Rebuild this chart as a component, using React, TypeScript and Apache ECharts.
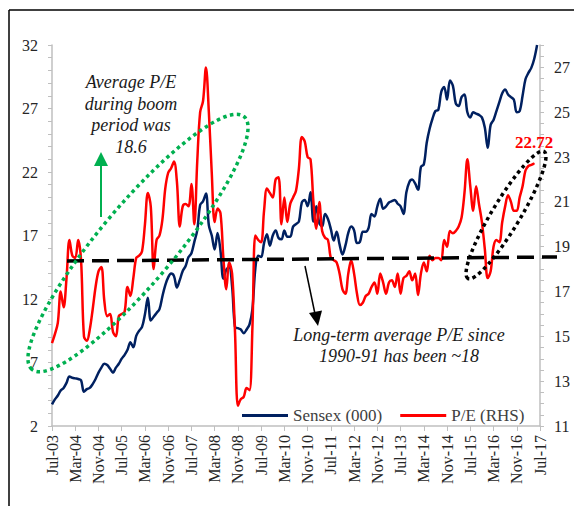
import React, { useEffect, useRef } from "react";
import * as echarts from "echarts";

const MONTH_NAMES = ["Jan", "Feb", "Mar", "Apr", "May", "Jun", "Jul", "Aug", "Sep", "Oct", "Nov", "Dec"];
const START_YEAR = 2003;
const START_MONTH = 6; // Jul
const MONTH_COUNT = 169; // Jul-03 .. Jul-17

const categories: string[] = Array.from({ length: MONTH_COUNT }, (_, i) => {
  const m = (START_MONTH + i) % 12;
  const y = START_YEAR + Math.floor((START_MONTH + i) / 12);
  return `${MONTH_NAMES[m]}-${String(y % 100).padStart(2, "0")}`;
});

// Sensex (000), left axis
const sensex: number[] = [
  3.7, 4.1, 4.4, 4.8, 5.0, 5.4, 5.9, 5.8, 5.75, 5.7, 5.6, 4.7, 4.9, 5.0, 5.3, 5.7,
  6.2, 6.6, 6.9, 6.8, 6.5, 6.2, 6.6, 6.9, 7.3, 7.6, 8.0, 8.6, 8.2, 9.1, 9.5, 9.8,
  10.8, 12.1, 10.3, 10.6, 10.9, 11.2, 12.2, 13.1, 13.7, 14.0, 13.8, 12.9, 13.5, 14.2, 14.6, 15.3,
  15.6, 16.5, 17.4, 19.4, 19.7, 20.3, 17.8, 17.0, 15.9, 17.2, 15.8, 13.6, 14.3, 14.5, 13.0, 9.8,
  9.7, 9.6, 9.3, 9.6, 10.0, 11.2, 14.4, 15.4, 15.3, 16.4, 17.1, 16.2, 17.0, 17.4, 16.8, 16.7,
  17.4, 16.9, 16.9, 17.7, 17.9, 18.1, 19.6, 19.8, 19.3, 20.4, 18.1, 19.3, 18.0, 17.7, 18.7, 18.3,
  17.5, 16.6, 17.3, 16.3, 15.5, 16.2, 17.2, 17.7, 17.4, 16.4, 16.5, 17.3, 17.3, 17.6, 18.7, 18.5,
  19.3, 19.9, 19.1, 19.3, 19.6, 19.7, 19.8, 19.5, 19.3, 18.7, 20.4, 21.2, 21.4, 21.1, 20.6, 22.4,
  22.6, 24.3, 25.4, 26.2, 26.8, 26.9, 28.3, 28.7, 27.7, 29.2, 28.8, 27.4, 27.2, 27.9, 28.1, 26.7,
  26.3, 26.7, 26.6, 26.5, 26.3, 25.5, 23.9, 25.7, 26.1, 26.8, 27.5, 28.2, 28.5, 28.1, 27.9, 27.7,
  26.7, 26.8, 28.0, 29.3, 29.8, 30.2, 30.9, 32.0,
];

// P/E, right axis
const pe: number[] = [
  14.7, 15.1, 15.6, 17.0, 16.3, 17.6, 19.3, 18.6, 18.5, 19.3, 18.4, 15.0, 14.8, 15.3, 16.2, 17.2,
  17.9, 18.1, 16.6, 15.9, 16.0, 15.2, 15.0, 15.9, 16.0, 16.1, 17.2, 16.8, 17.6, 18.5, 18.6, 18.8,
  20.0, 21.4, 20.8, 18.0, 19.3, 19.5, 20.2, 21.6, 22.3, 22.5, 22.8, 21.9, 19.9, 20.8, 20.9, 20.8,
  21.8, 20.0, 22.8, 25.0, 25.5, 27.0, 25.0, 22.3, 20.1, 20.7, 20.5, 18.5, 17.1, 18.3, 17.8, 15.2,
  11.9, 12.2, 12.3, 12.7, 12.6, 15.4, 19.5, 19.3, 19.2, 20.6, 21.6, 21.4, 21.2, 22.0, 22.1, 20.0,
  21.2, 20.1, 20.9, 21.2, 21.5, 22.5, 23.9, 23.7, 23.0, 22.9, 21.0, 19.8, 21.0, 19.7, 19.4, 19.3,
  18.5, 18.4, 18.3, 17.8, 17.1, 16.9, 17.8, 18.4, 17.8, 16.9, 16.4, 16.5, 16.8, 16.9, 17.2, 17.4,
  16.9, 17.8, 17.4, 16.9, 17.4, 17.5, 17.2, 17.8, 16.9, 17.6, 17.7, 17.9, 17.5, 17.8, 16.85, 17.8,
  18.3, 17.9, 18.6, 18.4, 18.5, 18.5, 18.4, 19.3, 19.0, 19.7, 19.6, 19.7, 19.9, 20.3, 21.4, 22.9,
  21.7, 20.6, 21.7, 20.9, 20.1, 18.9, 17.6, 17.9, 19.0, 19.3, 19.2, 20.1, 20.8, 21.3, 21.0, 20.6,
  20.6, 21.2, 21.7, 22.4, 22.6, 22.65, 22.72,
];

const LEFT_LABELS = [2, 7, 12, 17, 22, 27, 32];
const RIGHT_LABELS = [11, 13, 15, 17, 19, 21, 23, 25, 27];

const FONT = "Liberation Serif, DejaVu Serif, serif";

export default function App() {
  const ref = useRef<HTMLDivElement>(null);

  useEffect(() => {
    document.body.style.margin = "0";
    if (!ref.current) return;
    const chart = echarts.init(ref.current, null, { renderer: "svg" });

    const lastIdx = pe.length - 1;

    const annText = (text: string, x: number, y: number, size = 18) => ({
      type: "text",
      z: 100,
      style: {
        text,
        x,
        y,
        textAlign: "center",
        textVerticalAlign: "middle",
        font: `italic ${size}px ${FONT}`,
        fill: "#1a1a1a",
      },
    });

    const deg = Math.PI / 180;

    const option: any = {
      animation: false,
      backgroundColor: "#ffffff",
      textStyle: { fontFamily: FONT },
      grid: { left: 52, right: 34, top: 45, bottom: 80, containLabel: false, outerBoundsMode: "none" },
      legend: {
        data: ["Sensex (000)", "P/E (RHS)"],
        left: 237,
        top: 402,
        icon: "rect",
        itemWidth: 46,
        itemHeight: 3,
        itemGap: 18,
        textStyle: { fontSize: 17, color: "#404040", fontFamily: FONT },
      },
      xAxis: {
        type: "category",
        data: categories,
        boundaryGap: false,
        axisLine: { show: true, lineStyle: { color: "#bfbfbf", width: 1.5 } },
        axisTick: { show: true, interval: 7, length: 5, lineStyle: { color: "#bfbfbf" } },
        axisLabel: {
          interval: 7,
          rotate: 90,
          margin: 9,
          fontSize: 16,
          color: "#262626",
          fontFamily: FONT,
        },
        splitLine: { show: false },
      },
      yAxis: [
        {
          type: "value",
          position: "left",
          min: 2,
          max: 32,
          interval: 1,
          axisLine: { show: true, lineStyle: { color: "#bfbfbf", width: 1.5 } },
          axisTick: { show: true, length: 4, lineStyle: { color: "#bfbfbf" } },
          splitLine: { show: false },
          axisLabel: {
            formatter: (v: number) => (LEFT_LABELS.includes(v) ? String(v) : ""),
            fontSize: 16,
            color: "#262626",
            fontFamily: FONT,
            margin: 14,
          },
        },
        {
          type: "value",
          position: "right",
          min: 11,
          max: 28,
          interval: 0.5,
          axisLine: { show: true, lineStyle: { color: "#bfbfbf", width: 1.5 } },
          axisTick: { show: true, length: 4, lineStyle: { color: "#bfbfbf" } },
          splitLine: { show: false },
          axisLabel: {
            formatter: (v: number) => (RIGHT_LABELS.includes(v) ? String(v) : ""),
            fontSize: 16,
            color: "#262626",
            fontFamily: FONT,
            margin: 14,
          },
        },
      ],
      series: [
        {
          name: "Sensex (000)",
          type: "line",
          yAxisIndex: 0,
          data: sensex,
          symbol: "none",
          smooth: 0.35,
          lineStyle: { color: "#002060", width: 2.5 },
          itemStyle: { color: "#002060" },
          z: 2,
        },
        {
          name: "P/E (RHS)",
          type: "line",
          yAxisIndex: 1,
          data: pe,
          symbol: "none",
          smooth: 0.35,
          lineStyle: { color: "#ff0000", width: 2.5 },
          itemStyle: { color: "#ff0000" },
          z: 3,
          markPoint: {
            symbol: "circle",
            symbolSize: 1,
            itemStyle: { color: "#ff0000" },
            label: {
              show: true,
              position: "top",
              distance: 12,
              formatter: (p: any) => String(p.value),
              color: "#ff0000",
              fontWeight: "bold",
              fontSize: 17,
              fontFamily: FONT,
            },
            data: [{ coord: [lastIdx, pe[lastIdx]], value: pe[lastIdx] }],
          },
        },
      ],
      graphic: [
        // outer frame
        { type: "line", z: 100, shape: { x1: 9, y1: 10, x2: 574, y2: 10 }, style: { stroke: "#000", lineWidth: 1.5 } },
        { type: "line", z: 100, shape: { x1: 9, y1: 10, x2: 9, y2: 506 }, style: { stroke: "#000", lineWidth: 1.5 } },
        // long-term average dashed line
        {
          type: "line",
          z: 100,
          shape: { x1: 67, y1: 261, x2: 557, y2: 257 },
          style: { stroke: "#000", lineWidth: 3.5, lineDash: [17, 8] },
        },
        // green dotted ellipse
        {
          type: "ellipse",
          z: 100,
          x: 138,
          y: 243,
          rotation: 50 * deg,
          shape: { cx: 0, cy: 0, rx: 165, ry: 38 },
          style: { fill: "none", stroke: "#00b050", lineWidth: 3.5, lineDash: [3.5, 3.5] },
        },
        // black dotted ellipse
        {
          type: "ellipse",
          z: 100,
          x: 506,
          y: 215,
          rotation: 59 * deg,
          shape: { cx: 0, cy: 0, rx: 74, ry: 14 },
          style: { fill: "none", stroke: "#000", lineWidth: 3.5, lineDash: [3.5, 3.5] },
        },
        // green arrow
        { type: "line", z: 100, shape: { x1: 101, y1: 217, x2: 101, y2: 164 }, style: { stroke: "#00b050", lineWidth: 2 } },
        {
          type: "polygon",
          z: 100,
          shape: { points: [[94, 166], [108, 166], [101, 152]] },
          style: { fill: "#00b050" },
        },
        // black arrow
        { type: "line", z: 100, shape: { x1: 305, y1: 266, x2: 315, y2: 314 }, style: { stroke: "#000", lineWidth: 1.5 } },
        {
          type: "polygon",
          z: 100,
          shape: { points: [[309, 313], [322, 310.5], [318, 326]] },
          style: { fill: "#000" },
        },
        // annotation texts
        annText("Average P/E", 131, 82),
        annText("during boom", 131, 104),
        annText("period was", 131, 125),
        annText("18.6", 131, 147),
        annText("Long-term average P/E since", 399, 335),
        annText("1990-91 has been ~18", 399, 356),
      ],
    };

    chart.setOption(option);
    return () => {
      chart.dispose();
    };
  }, []);

  return <div ref={ref} style={{ width: 574, height: 506 }} />;
}
